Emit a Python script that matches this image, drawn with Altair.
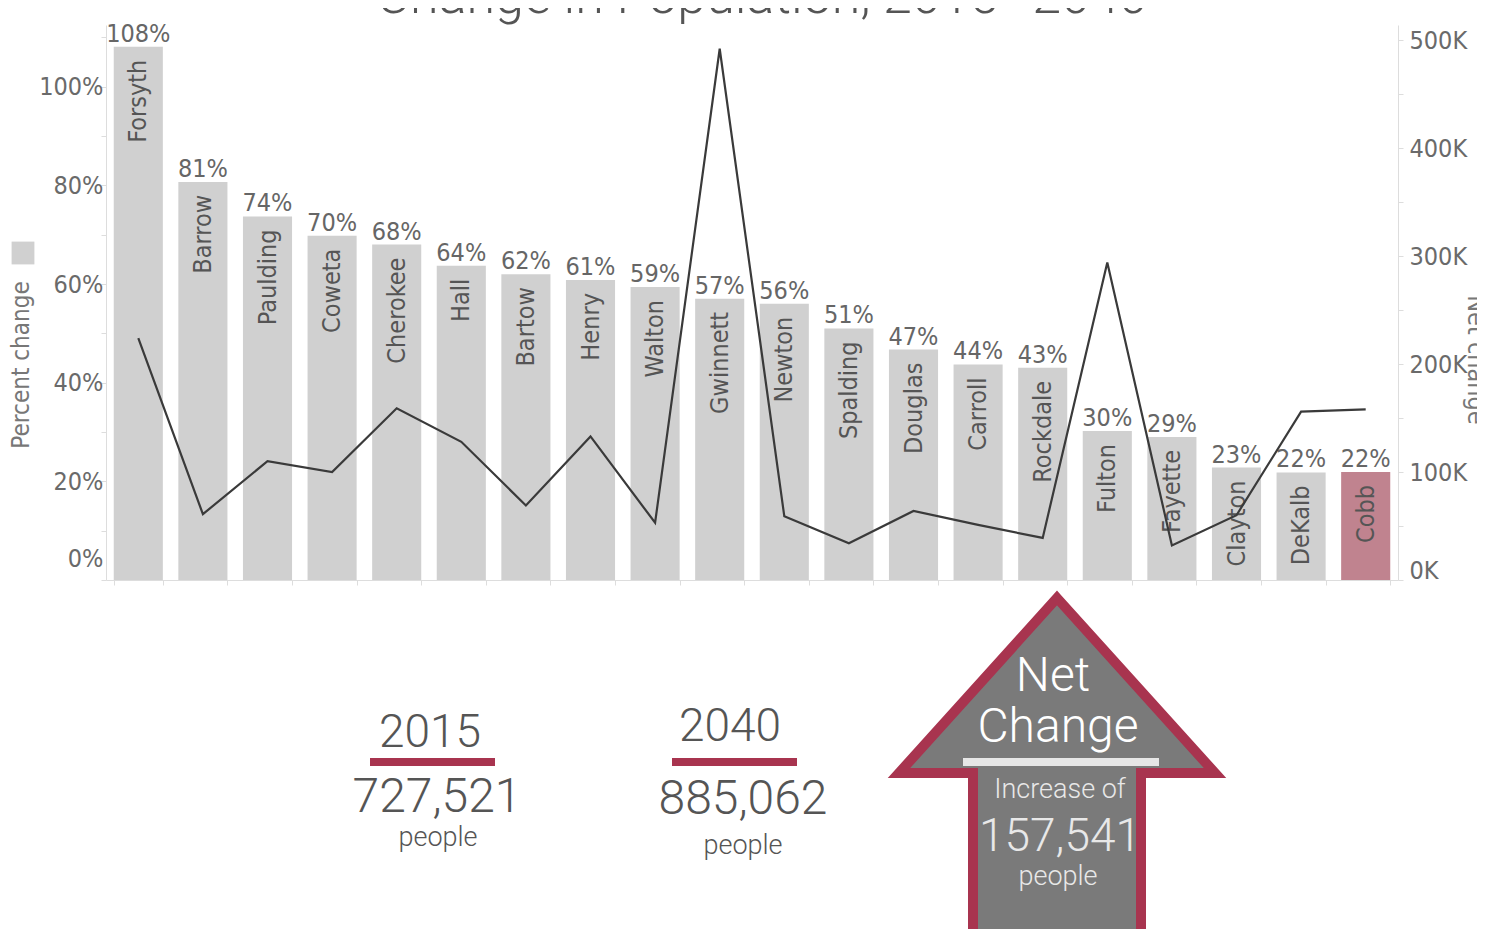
import altair as alt
import pandas as pd

counties = ["Forsyth", "Barrow", "Paulding", "Coweta", "Cherokee", "Hall", "Bartow",
            "Henry", "Walton", "Gwinnett", "Newton", "Spalding", "Douglas", "Carroll",
            "Rockdale", "Fulton", "Fayette", "Clayton", "DeKalb", "Cobb"]
pct_change = [1.081, 0.807, 0.737, 0.698, 0.680, 0.637, 0.620, 0.608, 0.594, 0.570,
              0.560, 0.510, 0.467, 0.437, 0.430, 0.302, 0.290, 0.228, 0.218, 0.219]
net_change = [224000, 61000, 110000, 100000, 159000, 128000, 69000, 133000, 53000, 492000,
              59000, 34000, 64000, 51000, 39000, 294000, 32000, 60000, 156000, 158000]
highlight = ["Cobb"]

title_text = "Change in Population, 2015\u20132040"
pop_2015 = "727,521"
pop_2040 = "885,062"
net_total = "157,541"

df = pd.DataFrame({"county": counties, "pct": pct_change, "net": net_change})
df["hl"] = df["county"].isin(highlight)
one = pd.DataFrame({"k": [0]})

COND = "'Liberation Sans Narrow', 'DejaVu Sans Condensed', 'Roboto Condensed', 'Arial Narrow', Roboto, sans-serif"
DIN = "Roboto, 'Noto Sans', sans-serif"
RED = "#a8344f"

x_enc = alt.X("county:N", sort=counties,
              scale=alt.Scale(paddingInner=0.24, paddingOuter=0.12),
              axis=alt.Axis(labels=False, title=None, ticks=True, tickBand="extent",
                            domainColor="#dddddd", tickColor="#dddddd", tickSize=5))

y_pct = alt.Y("pct:Q", scale=alt.Scale(domain=[0, 1.125], nice=False),
              axis=alt.Axis(values=[i / 10 for i in range(12)],
                            labelExpr="round(datum.value*10) % 2 == 0 ? format(datum.value, '.0%') : ''",
                            title=None, labelFont=COND, labelFontSize=25, labelColor="#6a6a6a",
                            domainColor="#dddddd", tickColor="#dddddd", tickSize=5,
                            labelPadding=-2, labelFlush=True, labelFlushOffset=-9))

bars = alt.Chart(df).mark_bar().encode(
    x=x_enc, y=y_pct,
    color=alt.condition(alt.datum.hl, alt.value("#c0838f"), alt.value("#d0d0d0")),
)

pct_labels = alt.Chart(df).mark_text(
    baseline="alphabetic", dy=-5, font=COND, fontSize=25, color="#666666"
).encode(x=x_enc, y=y_pct, text=alt.Text("pct:Q", format=".0%"))

names = alt.Chart(df).mark_text(
    angle=270, align="right", baseline="middle", dx=-13, font=COND, fontSize=25, color="#555555"
).encode(x=x_enc, y=y_pct, text="county:N")


def txt(text, x, y, size, color="#555555", font=DIN, angle=0, align="center",
        baseline="middle", weight=300):
    return alt.Chart(one).mark_text(
        text=text, font=font, fontSize=size, color=color, angle=angle,
        align=align, baseline=baseline, fontWeight=weight
    ).encode(x=alt.value(x), y=alt.value(y))


def bar_rule(x1, x2, y, width, color):
    return alt.Chart(one).mark_rule(strokeWidth=width, color=color).encode(
        x=alt.value(x1), x2=alt.value(x2), y=alt.value(y))


arrow_path = "M0,-1.75 L1.58,0 L0.84,0 L0.84,1.9 L-0.84,1.9 L-0.84,0 L-1.58,0 Z"
arrow = alt.Chart(one).mark_point(
    shape=arrow_path, size=40000, filled=True, color="#7a7a7a", stroke=RED,
    strokeWidth=10, opacity=1, strokeJoin="miter"
).encode(x=alt.value(951), y=alt.value(748))

legend_sq = alt.Chart(one).mark_square(size=520, color="#d0d0d0", opacity=1).encode(
    x=alt.value(-83), y=alt.value(228))

annotations = [
    txt(title_text, 656, -12, 52, color="#555555", baseline="alphabetic"),
    legend_sq,
    txt("Percent change", -84, 340, 24, color="#777777", font=COND, angle=270, weight=400),
    txt("Net change", 1370, 335, 25, color="#777777", font=COND, angle=90, weight=400),
    txt("2015", 324, 708, 46),
    bar_rule(264, 389, 737, 8, RED),
    txt(pop_2015, 331, 773, 48),
    txt("people", 332, 813, 27),
    txt("2040", 624, 702, 46),
    bar_rule(566, 691, 737, 8, RED),
    txt(pop_2040, 637, 775, 48),
    txt("people", 637, 821, 27),
    arrow,
    bar_rule(857, 1053, 737, 8, "#e6e6e6"),
    txt("Net", 947, 652, 48, color="#ffffff"),
    txt("Change", 952, 703, 48, color="#ffffff"),
    txt("Increase of", 954, 765, 27, color="#e8e8e8"),
    txt(net_total, 954, 812, 46, color="#e8e8e8"),
    txt("people", 952, 852, 27, color="#e8e8e8"),
]

left = alt.layer(bars, pct_labels, names, *annotations)

line = alt.Chart(df).mark_line(color="#3a3a3a", strokeWidth=2.2).encode(
    x=x_enc,
    y=alt.Y("net:Q", scale=alt.Scale(domain=[0, 514000], nice=False),
            axis=alt.Axis(orient="right", values=[i * 50000 for i in range(11)],
                          labelExpr="datum.value % 100000 == 0 ? (datum.value/1000) + 'K' : ''",
                          title=None, labelFont=COND, labelFontSize=25, labelColor="#6a6a6a",
                          domainColor="#dddddd", tickColor="#dddddd", tickSize=5,
                          labelPadding=6, labelFlush=True, labelFlushOffset=3)),
)

chart = alt.layer(left, line).resolve_scale(y="independent").properties(
    width=1292, height=555,
    padding={"left": 98, "top": 17, "right": 79, "bottom": 349},
    autosize=alt.AutoSizeParams(type="none"),
).configure_view(stroke=None).configure_axis(grid=False)

chart.save("out.html", embed_options={"renderer": "svg", "actions": False})
